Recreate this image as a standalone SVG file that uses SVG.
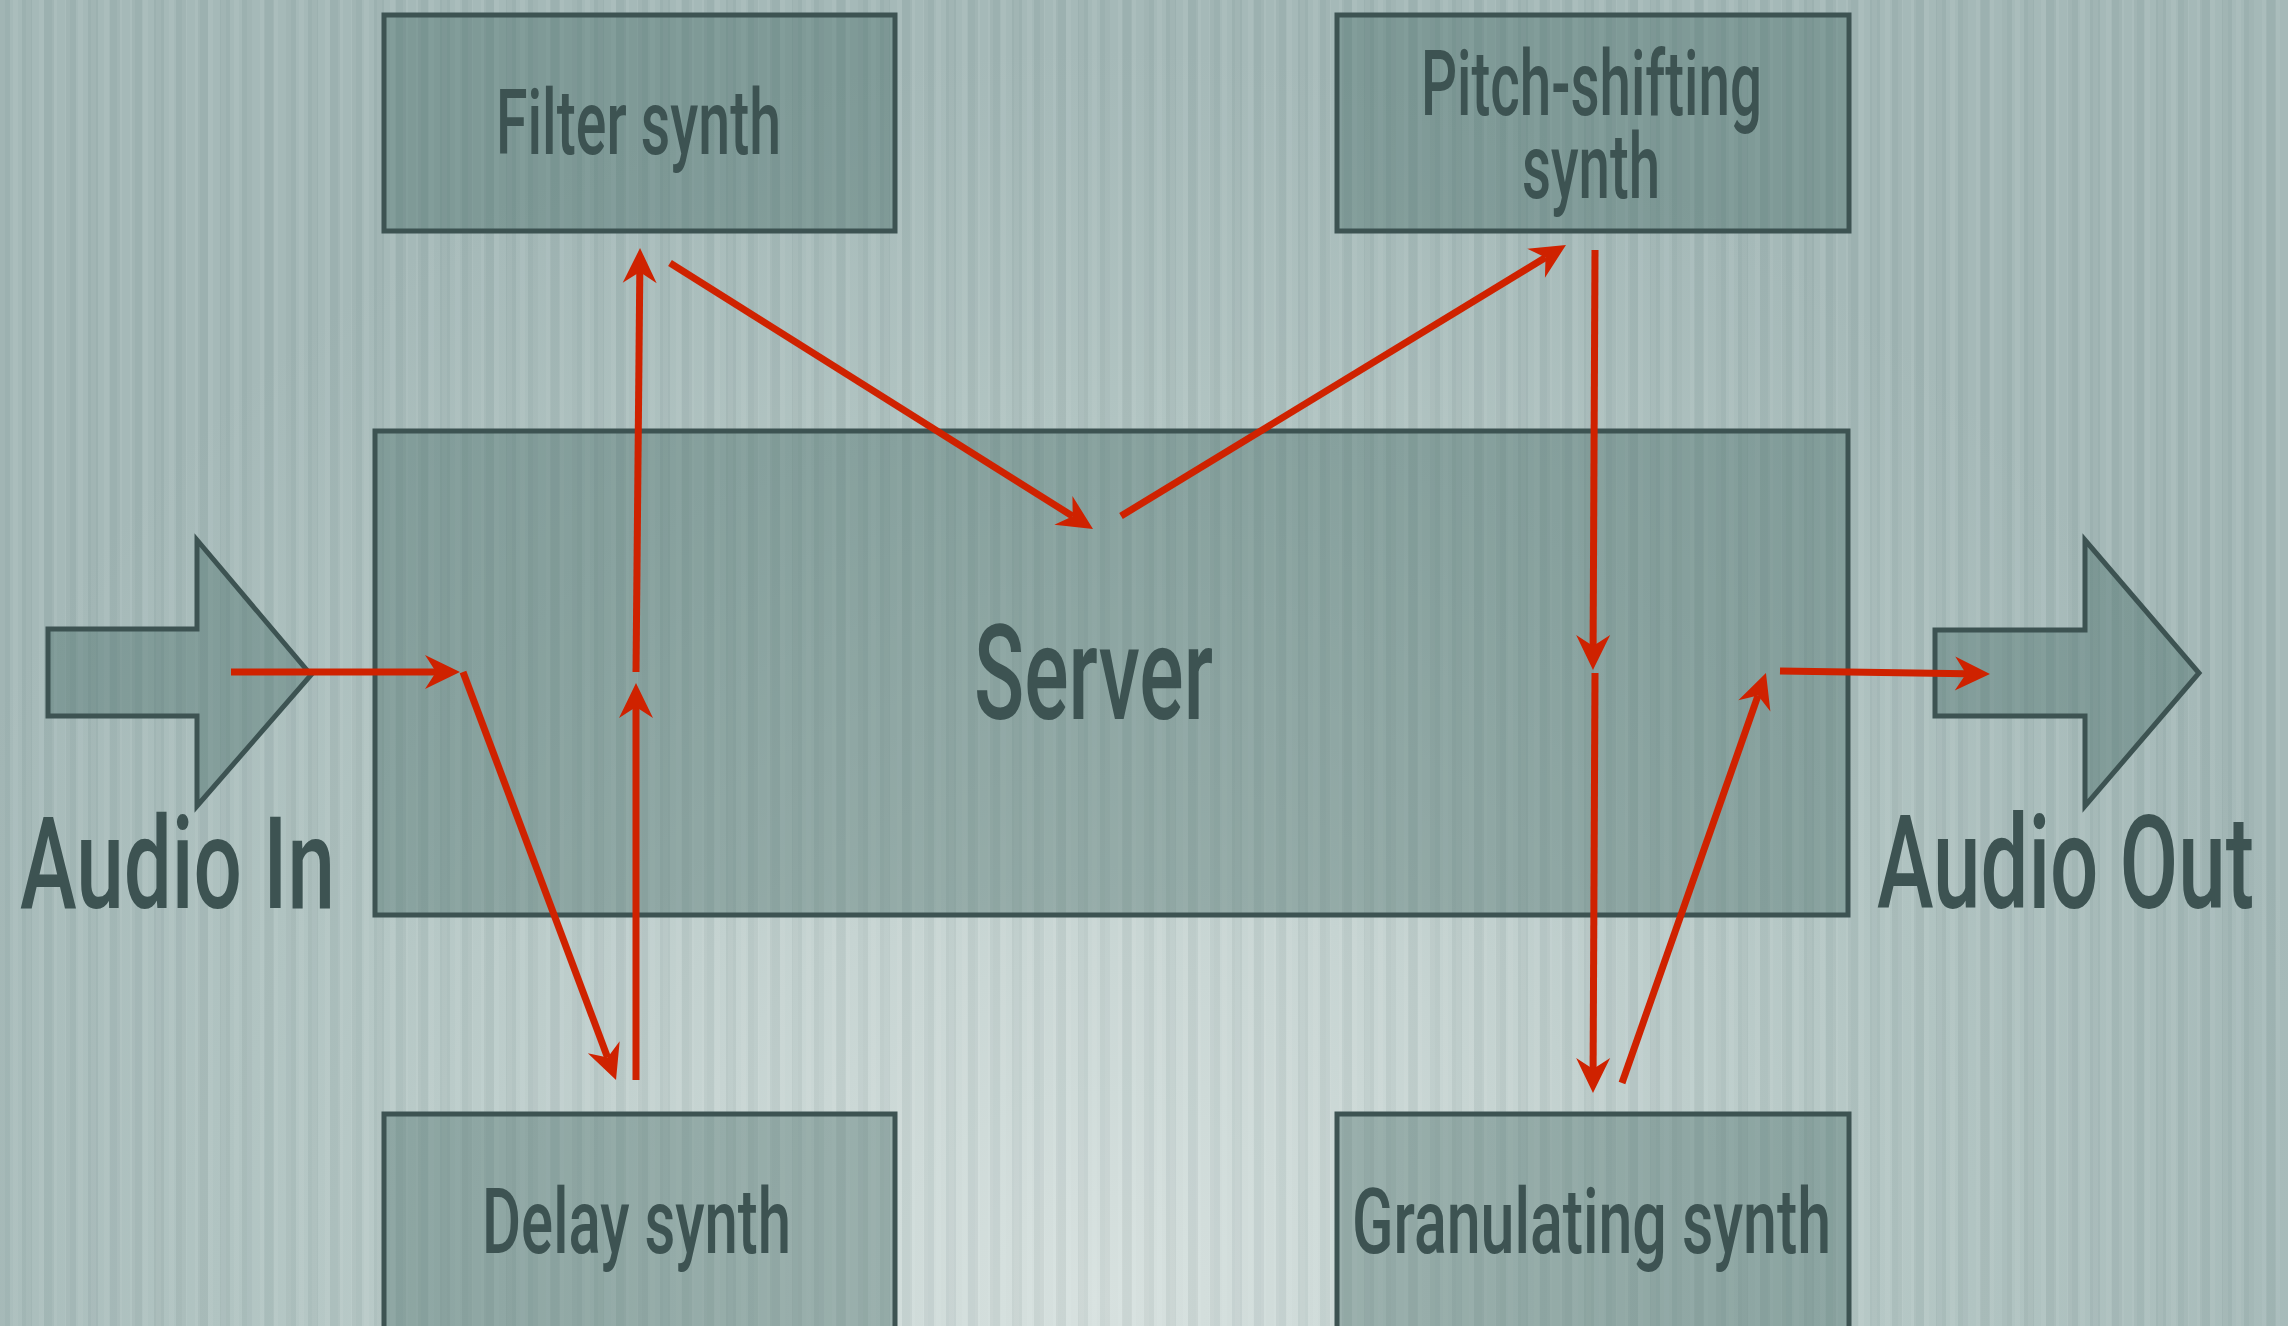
<svg xmlns="http://www.w3.org/2000/svg" width="2288" height="1326" viewBox="0 0 2288 1326">
<defs>
<radialGradient id="glow" gradientUnits="userSpaceOnUse" cx="1100" cy="1300" r="1250">
<stop offset="0" stop-color="#d7e1df"/>
<stop offset="0.35" stop-color="#c6d4d2"/>
<stop offset="0.7" stop-color="#b1c4c2"/>
<stop offset="1" stop-color="#a5b9b8"/>
</radialGradient>
<pattern id="stripesA" patternUnits="userSpaceOnUse" width="22" height="40">
<rect x="0" y="0" width="10" height="40" fill="#2e4a4c" fill-opacity="0.07"/>
</pattern>
<pattern id="stripesB" patternUnits="userSpaceOnUse" width="13" height="40">
<rect x="0" y="0" width="5" height="40" fill="#ffffff" fill-opacity="0.05"/>
</pattern>
<marker id="ah" markerUnits="userSpaceOnUse" markerWidth="60" markerHeight="60" refX="0" refY="0" viewBox="-20 -30 60 60" orient="auto" overflow="visible">
<path d="M24,0 L-11,-17 L0,0 L-11,17 Z" fill="#cf2200"/>
</marker>
<style>
.box{fill:#3c645f;fill-opacity:0.36;stroke:#3d5352;stroke-width:5}
.lbl{font-family:Roboto,"Liberation Sans",Arial,sans-serif;font-weight:500;fill:#3d5352}
.c{fill:none;stroke:#cf2200;stroke-width:7;stroke-linecap:butt}
.ca{marker-end:url(#ah)}
</style>
</defs>
<g id="background">
<rect x="0" y="0" width="2288" height="1326" fill="url(#glow)"/>
<rect x="0" y="0" width="2288" height="1326" fill="url(#stripesA)"/>
<rect x="0" y="0" width="2288" height="1326" fill="url(#stripesB)"/>
</g>
<g id="server">
<rect class="box" x="375" y="431" width="1473" height="484"/>
<text class="lbl" x="974" y="719" font-size="132" textLength="239" lengthAdjust="spacingAndGlyphs">Server</text>
</g>
<g id="filter-synth">
<rect class="box" x="384" y="15" width="511" height="216"/>
<text class="lbl" x="496" y="154" font-size="90" textLength="285" lengthAdjust="spacingAndGlyphs">Filter synth</text>
</g>
<g id="pitch-synth">
<rect class="box" x="1337" y="15" width="512" height="216"/>
<text class="lbl" x="1421" y="115" font-size="91" textLength="341" lengthAdjust="spacingAndGlyphs">Pitch-shifting</text>
<text class="lbl" x="1522" y="198" font-size="91" textLength="138" lengthAdjust="spacingAndGlyphs">synth</text>
</g>
<g id="delay-synth">
<rect class="box" x="384" y="1114" width="511" height="240"/>
<text class="lbl" x="482" y="1253" font-size="90" textLength="309" lengthAdjust="spacingAndGlyphs">Delay synth</text>
</g>
<g id="granulating-synth">
<rect class="box" x="1337" y="1114" width="512" height="240"/>
<text class="lbl" x="1352" y="1253" font-size="91" textLength="479" lengthAdjust="spacingAndGlyphs">Granulating synth</text>
</g>
<g id="audio-in">
<polygon class="box" points="48,629 197,629 197,540 311,675 197,806 197,716 48,716"/>
<text class="lbl" x="20" y="908" font-size="128" textLength="315" lengthAdjust="spacingAndGlyphs">Audio In</text>
</g>
<g id="audio-out">
<polygon class="box" points="1935,630 2085,630 2085,540 2199,673 2085,806 2085,716 1935,716"/>
<text class="lbl" x="1877" y="908" font-size="130" textLength="377" lengthAdjust="spacingAndGlyphs">Audio Out</text>
</g>
<g id="connectors">
<line class="c ca" x1="231" y1="672" x2="436" y2="672"/>
<line class="c ca" x1="463" y1="672" x2="607.6" y2="1057.5"/>
<line class="c ca" x1="636" y1="1080" x2="636" y2="707"/>
<line class="c ca" x1="636" y1="672" x2="639.8" y2="272"/>
<line class="c ca" x1="670" y1="263" x2="1072.7" y2="516.2"/>
<line class="c ca" x1="1121" y1="516" x2="1545.5" y2="257.5"/>
<line class="c ca" x1="1595" y1="250" x2="1593.1" y2="646"/>
<line class="c ca" x1="1595" y1="673" x2="1593.1" y2="1069"/>
<line class="c ca" x1="1622" y1="1083" x2="1758" y2="695.6"/>
<line class="c ca" x1="1780" y1="671" x2="1966" y2="673.7"/>
</g>
</svg>
